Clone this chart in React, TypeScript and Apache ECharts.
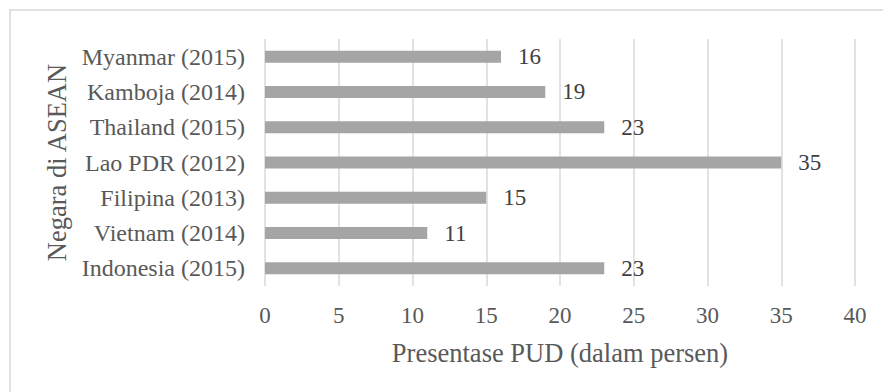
import React, { useEffect, useRef } from "react";
import * as echarts from "echarts";

const categories = [
  "Indonesia (2015)",
  "Vietnam (2014)",
  "Filipina (2013)",
  "Lao PDR (2012)",
  "Thailand (2015)",
  "Kamboja (2014)",
  "Myanmar (2015)",
];
const values = [23, 11, 15, 35, 23, 19, 16];
const xTicks = { min: 0, max: 40, interval: 5 };
const xTitle = "Presentase PUD (dalam persen)";
const yTitle = "Negara di ASEAN";

export default function App() {
  const ref = useRef<HTMLDivElement>(null);
  useEffect(() => {
    if (!ref.current) return;
    const chart = echarts.init(ref.current, null, { renderer: "svg" });
    const font = "'Liberation Serif', 'Times New Roman', serif";
    chart.setOption({
      animation: false,
      backgroundColor: "#ffffff",
      textStyle: { fontFamily: font },
      grid: { left: 265, right: 28, top: 39, bottom: 106, containLabel: false },
      graphic: [
        {
          type: "rect",
          shape: { x: 10, y: 10, width: 900, height: 420 },
          style: { fill: "none", stroke: "#d9d9d9", lineWidth: 1.5 },
          silent: true,
        },
      ],
      xAxis: {
        type: "value",
        min: xTicks.min,
        max: xTicks.max,
        interval: xTicks.interval,
        axisLine: { show: false },
        axisTick: { show: false },
        splitLine: { show: true, lineStyle: { color: "#d9d9d9", width: 1.5 } },
        axisLabel: { color: "#595959", fontSize: 23, fontFamily: font, margin: 18 },
        name: xTitle,
        nameLocation: "middle",
        nameGap: 53,
        nameTextStyle: { color: "#595959", fontSize: 26.5, fontFamily: font },
      },
      yAxis: {
        type: "category",
        data: categories,
        axisLine: { show: false },
        axisTick: { show: false },
        splitLine: { show: false },
        axisLabel: { color: "#595959", fontSize: 24, fontFamily: font, margin: 20 },
        name: yTitle,
        nameLocation: "middle",
        nameGap: 191,
        nameRotate: 90,
        nameTextStyle: { color: "#595959", fontSize: 26.5, fontFamily: font },
      },
      series: [
        {
          type: "bar",
          data: values,
          barWidth: 12,
          itemStyle: { color: "#a5a5a5" },
          label: {
            show: true,
            position: "right",
            distance: 17,
            color: "#404040",
            fontSize: 23,
            fontFamily: font,
          },
        },
      ],
    });
    return () => chart.dispose();
  }, []);
  return (
    <div
      ref={ref}
      style={{ position: "fixed", left: 0, top: 0, width: 883, height: 392 }}
    />
  );
}
